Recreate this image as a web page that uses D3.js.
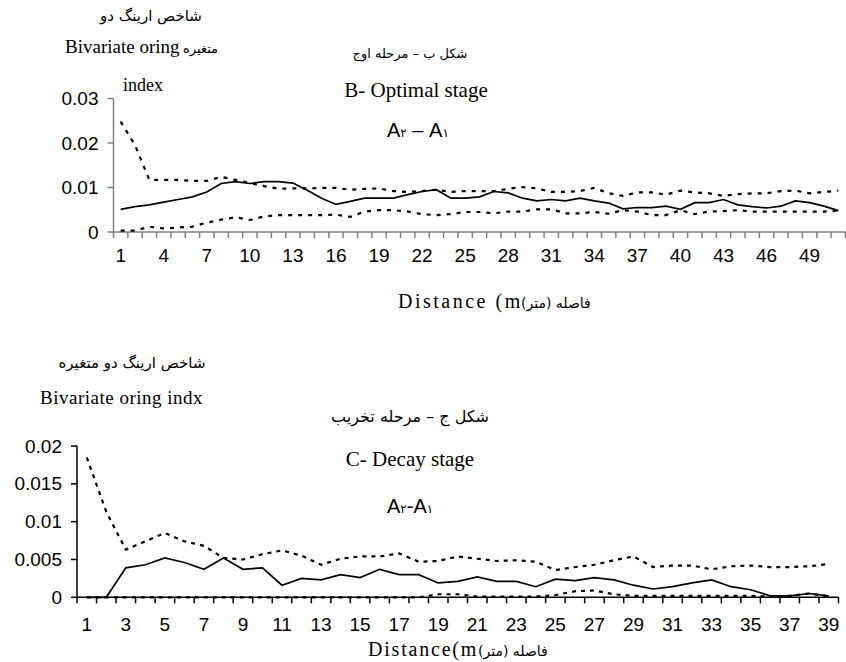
<!DOCTYPE html>
<html>
<head>
<meta charset="utf-8">
<script src="https://cdn.jsdelivr.net/npm/d3@7"></script>
<style>
  body { margin: 0; background: #fff; }
  .serif { font-family: "Liberation Serif", "Times New Roman", serif; }
  .sans  { font-family: "Liberation Sans", Arial, sans-serif; }
  .fa    { font-family: "DejaVu Sans", sans-serif; }
</style>
</head>
<body>
<div id="chart"></div>
<script>
// ---- data ----
// panel B: optimal stage, distance classes 1..51
var distB = [1,2,3,4,5,6,7,8,9,10,11,12,13,14,15,16,17,18,19,20,21,22,23,24,25,26,
             27,28,29,30,31,32,33,34,35,36,37,38,39,40,41,42,43,44,45,46,47,48,49,50,51];
var tickLabelsB = [1,4,7,10,13,16,19,22,25,28,31,34,37,40,43,46,49];
var yTicksB = [0, 0.01, 0.02, 0.03];
var indexB = [0.0051,0.0057,0.0061,0.0067,0.0073,0.0079,0.0090,0.0109,0.0113,0.0109,
              0.0113,0.0113,0.0110,0.0094,0.0076,0.0062,0.0069,0.0076,0.0076,0.0076,
              0.0084,0.0091,0.0095,0.0076,0.0076,0.0079,0.0091,0.0088,0.0076,0.0070,
              0.0073,0.0070,0.0076,0.0070,0.0065,0.0052,0.0055,0.0055,0.0058,0.0051,
              0.0066,0.0066,0.0073,0.0061,0.0057,0.0054,0.0058,0.0070,0.0066,0.0058,0.0048];
var upperB = [0.0248,0.0195,0.0117,0.0117,0.0117,0.0115,0.0115,0.0124,0.0117,0.0110,
              0.0103,0.0097,0.0098,0.0098,0.0099,0.0099,0.0095,0.0097,0.0098,0.0092,
              0.0090,0.0092,0.0095,0.0090,0.0092,0.0092,0.0092,0.0097,0.0101,0.0098,
              0.0090,0.0090,0.0092,0.0099,0.0087,0.0081,0.0089,0.0089,0.0084,0.0093,
              0.0089,0.0087,0.0081,0.0085,0.0087,0.0087,0.0092,0.0093,0.0087,0.0090,0.0093];
var lowerB = [0.0003,0.0003,0.0012,0.0008,0.0010,0.0012,0.0021,0.0028,0.0033,0.0027,
              0.0035,0.0038,0.0038,0.0038,0.0038,0.0039,0.0034,0.0046,0.0049,0.0049,
              0.0046,0.0040,0.0038,0.0040,0.0045,0.0045,0.0042,0.0046,0.0046,0.0051,
              0.0051,0.0042,0.0042,0.0045,0.0041,0.0049,0.0046,0.0038,0.0038,0.0049,
              0.0040,0.0046,0.0047,0.0049,0.0046,0.0046,0.0046,0.0046,0.0046,0.0046,0.0048];

// panel C: decay stage, distance classes 1..39
var distC = [1,2,3,4,5,6,7,8,9,10,11,12,13,14,15,16,17,18,19,20,
             21,22,23,24,25,26,27,28,29,30,31,32,33,34,35,36,37,38,39];
var tickLabelsC = [1,3,5,7,9,11,13,15,17,19,21,23,25,27,29,31,33,35,37,39];
var yTicksC = [0, 0.005, 0.01, 0.015, 0.02];
var indexC = [0,0,0.0039,0.0043,0.0052,0.0046,0.0037,0.0052,0.0037,0.0039,
              0.0016,0.0025,0.0023,0.0030,0.0026,0.0037,0.0030,0.0030,0.0019,0.0021,
              0.0027,0.0021,0.0021,0.0014,0.0024,0.0022,0.0026,0.0023,0.0016,0.0011,
              0.0014,0.0019,0.0023,0.0014,0.0010,0.0002,0.0002,0.0005,0.0002];
var upperC = [0.0185,0.0113,0.0063,0.0074,0.0085,0.0074,0.0068,0.0052,0.0050,0.0057,
              0.0062,0.0055,0.0043,0.0051,0.0054,0.0054,0.0058,0.0047,0.0048,0.0054,
              0.0051,0.0048,0.0049,0.0047,0.0036,0.0040,0.0043,0.0049,0.0054,0.0040,
              0.0042,0.0042,0.0037,0.0041,0.0042,0.0040,0.0040,0.0041,0.0044];
var lowerC = [0,0,0,0,0,0,0,0,0,0,
              0,0,0,0,0,0,0,0,0.0004,0.0004,
              0.0001,0.0001,0.0001,0.0001,0.0003,0.0008,0.0009,0.0004,0.0002,0.0002,
              0.0002,0.0002,0.0002,0.0002,0.0002,0.0001,0.0002,0.0005,0.0001];

var svg = d3.select("#chart").append("svg")
    .attr("width", 846)
    .attr("height", 662);

function yFormat(d) { return d === 0 ? "0" : String(d); }

// draws one panel: axes, three lines
function drawPanel(p) {
  var x = d3.scaleBand().domain(p.cats).range([p.left, p.right]).paddingInner(0).paddingOuter(0);
  var y = d3.scaleLinear().domain([0, p.yMax]).range([p.bottom, p.top]);
  var g = svg.append("g");

  // y axis
  g.append("line")
      .attr("x1", p.left).attr("x2", p.left)
      .attr("y1", y(0)).attr("y2", y(p.yMax))
      .attr("stroke", p.axisColor).attr("stroke-width", 1.5);
  g.selectAll(".ytick").data(p.yTicks).enter().append("line")
      .attr("x1", p.left - 6).attr("x2", p.left)
      .attr("y1", function(d) { return y(d); }).attr("y2", function(d) { return y(d); })
      .attr("stroke", p.axisColor).attr("stroke-width", 1.5);
  g.selectAll(".ylab").data(p.yTicks).enter().append("text")
      .attr("class", "sans")
      .attr("x", p.left - 15)
      .attr("y", function(d) { return y(d); })
      .attr("dy", "0.35em")
      .attr("text-anchor", "end")
      .attr("font-size", "19px")
      .text(yFormat);

  // x axis, ticks between categories like Excel
  g.append("line")
      .attr("x1", p.left).attr("x2", p.right)
      .attr("y1", y(0)).attr("y2", y(0))
      .attr("stroke", p.axisColor).attr("stroke-width", 1.5);
  var bounds = p.cats.map(function(c) { return x(c); }).concat([x(p.cats[p.cats.length - 1]) + x.bandwidth()]);
  g.selectAll(".xtick").data(bounds).enter().append("line")
      .attr("x1", function(d) { return d; }).attr("x2", function(d) { return d; })
      .attr("y1", y(0)).attr("y2", y(0) + 6)
      .attr("stroke", p.axisColor).attr("stroke-width", 1.5);
  g.selectAll(".xlab").data(p.tickLabels).enter().append("text")
      .attr("class", "sans")
      .attr("x", function(d) { return x(d) + x.bandwidth() / 2; })
      .attr("y", y(0) + p.labelDy)
      .attr("text-anchor", "middle")
      .attr("font-size", "19px")
      .text(function(d) { return d; });

  var line = d3.line()
      .x(function(d, i) { return x(p.cats[i]) + x.bandwidth() / 2; })
      .y(function(d) { return y(d); });

  g.append("path").datum(p.upper)
      .attr("d", line).attr("fill", "none")
      .attr("stroke", "#000").attr("stroke-width", 2.2)
      .attr("stroke-dasharray", p.dash);
  g.append("path").datum(p.lower)
      .attr("d", line).attr("fill", "none")
      .attr("stroke", "#000").attr("stroke-width", 2.2)
      .attr("stroke-dasharray", p.dash);
  g.append("path").datum(p.index)
      .attr("d", line).attr("fill", "none")
      .attr("stroke", "#000").attr("stroke-width", 1.7);
}

drawPanel({cats: distB, tickLabels: tickLabelsB, yTicks: yTicksB, yMax: 0.03,
           index: indexB, upper: upperB, lower: lowerB,
           left: 113.5, right: 845.5, bottom: 232, top: 98.5,
           axisColor: "#808080", labelDy: 30, dash: "4,6"});
drawPanel({cats: distC, tickLabels: tickLabelsC, yTicks: yTicksC, yMax: 0.02,
           index: indexC, upper: upperC, lower: lowerC,
           left: 77, right: 838.5, bottom: 597.3, top: 446,
           axisColor: "#000", labelDy: 34, dash: "4,5"});

// ---- texts, panel B ----
svg.append("text").attr("class", "fa").attr("x", 151).attr("y", 21)
    .attr("text-anchor", "middle").attr("font-size", "15px").text("شاخص ارینگ دو");
svg.append("text").attr("class", "serif").attr("x", 65).attr("y", 53)
    .attr("font-size", "19px").text("Bivariate oring");
svg.append("text").attr("class", "fa").attr("x", 183).attr("y", 53)
    .attr("font-size", "13px").text("متغیره");
svg.append("text").attr("class", "serif").attr("x", 123).attr("y", 91)
    .attr("font-size", "18px").text("index");
svg.append("text").attr("class", "fa").attr("x", 410).attr("y", 58)
    .attr("text-anchor", "middle").attr("font-size", "13px").text("شکل ب – مرحله اوج");
svg.append("text").attr("class", "serif").attr("x", 416).attr("y", 97)
    .attr("text-anchor", "middle").attr("font-size", "21px").text("B- Optimal stage");
var tB = svg.append("text").attr("class", "sans").attr("x", 387).attr("y", 137).attr("font-size", "20px");
tB.append("tspan").text("A");
tB.append("tspan").attr("class", "fa").attr("font-size", "12px").text("۲");
tB.append("tspan").text(" – ");
tB.append("tspan").text("A");
tB.append("tspan").attr("class", "fa").attr("font-size", "12px").text("۱");
svg.append("text").attr("class", "serif").attr("x", 398).attr("y", 308)
    .attr("font-size", "20px").style("letter-spacing", "2.5px").text("Distance (m");
svg.append("text").attr("class", "fa").attr("x", 521).attr("y", 308)
    .attr("direction", "rtl").attr("text-anchor", "end")
    .attr("font-size", "14px").text("فاصله (متر)");

// ---- texts, panel C ----
svg.append("text").attr("class", "fa").attr("x", 132).attr("y", 368)
    .attr("text-anchor", "middle").attr("font-size", "15px").text("شاخص ارینگ دو متغیره");
svg.append("text").attr("class", "serif").attr("x", 40).attr("y", 404)
    .attr("font-size", "19px").style("letter-spacing", "0.5px").text("Bivariate oring indx");
svg.append("text").attr("class", "fa").attr("x", 410).attr("y", 422)
    .attr("text-anchor", "middle").attr("font-size", "16px").text("شکل ج – مرحله تخریب");
svg.append("text").attr("class", "serif").attr("x", 410).attr("y", 466)
    .attr("text-anchor", "middle").attr("font-size", "21px").text("C- Decay stage");
var tC = svg.append("text").attr("class", "sans").attr("x", 387).attr("y", 513).attr("font-size", "20px");
tC.append("tspan").text("A");
tC.append("tspan").attr("class", "fa").attr("font-size", "12px").text("۲");
tC.append("tspan").text("-");
tC.append("tspan").text("A");
tC.append("tspan").attr("class", "fa").attr("font-size", "12px").text("۱");
svg.append("text").attr("class", "serif").attr("x", 368).attr("y", 656)
    .attr("font-size", "20px").style("letter-spacing", "1.8px").text("Distance(m");
svg.append("text").attr("class", "fa").attr("x", 478).attr("y", 656)
    .attr("direction", "rtl").attr("text-anchor", "end")
    .attr("font-size", "14px").text("فاصله (متر)");
</script>
</body>
</html>
